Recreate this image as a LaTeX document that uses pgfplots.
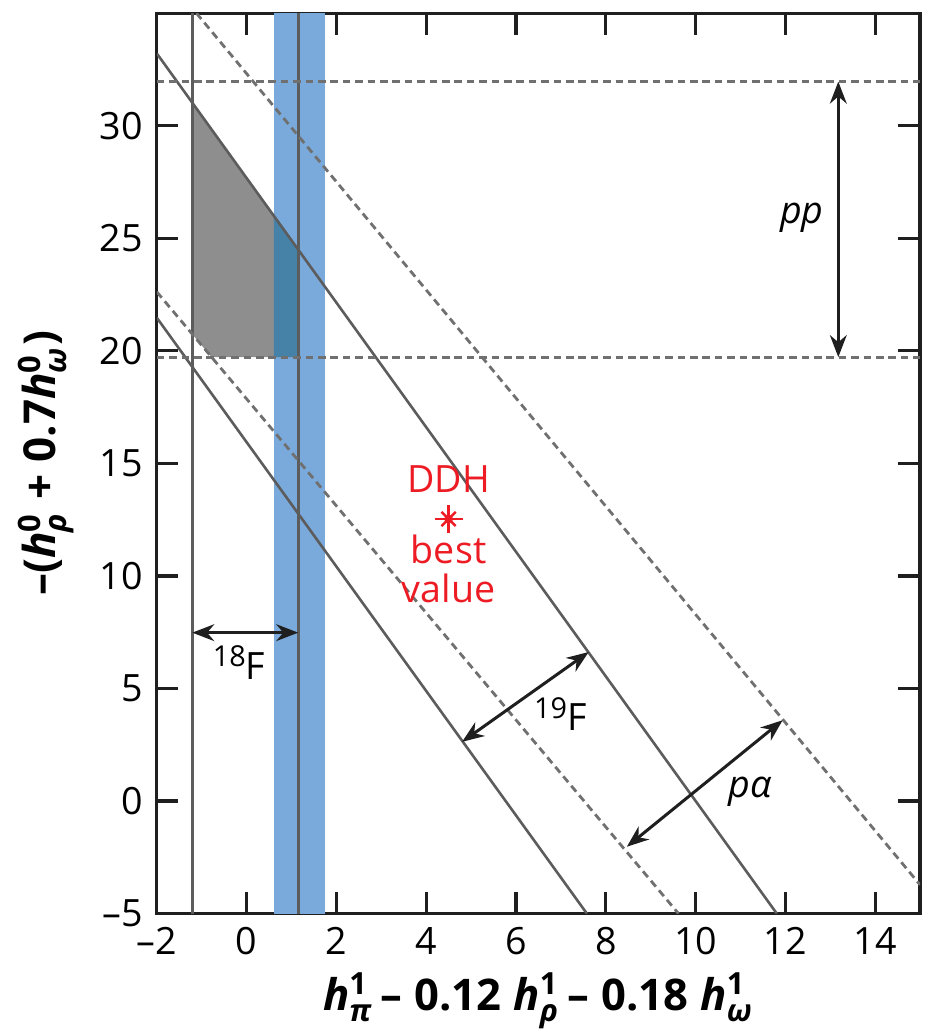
\documentclass[border=0pt]{standalone}
\usepackage{fontspec}
\setmainfont{Open Sans}
\usepackage{amsmath}
\usepackage{pgfplots}
\pgfplotsset{compat=1.18}
\usetikzlibrary{arrows.meta}

\definecolor{bandblue}{RGB}{122,170,220}
\definecolor{regiongray}{RGB}{142,142,142}
\definecolor{overlapc}{RGB}{70,130,168}
\definecolor{linegray}{RGB}{92,92,92}
\definecolor{dashgray}{RGB}{112,112,112}
\definecolor{ddhred}{RGB}{237,28,36}

\newcommand{\hh}[2]{\textit{h}\ensuremath{^{\text{\upshape #1}}_{\text{\itshape #2}}}}
\newcommand{\iso}[1]{{\fontsize{7.2pt}{8pt}\selectfont\raisebox{0.42em}{#1}}}

\begin{document}
\begin{tikzpicture}[font=\fontsize{9.4pt}{11pt}\selectfont]
\begin{axis}[
  scale only axis, width=190.8pt, height=225.1pt,
  xmin=-2, xmax=15, ymin=-5, ymax=35,
  xtick={-2,0,2,4,6,8,10,12,14},
  xticklabels={–2,0,2,4,6,8,10,12,14},
  ytick={-5,0,5,10,15,20,25,30},
  yticklabels={–5,0,5,10,15,20,25,30},
  tick align=inside, major tick length=5.4pt,
  axis line style={line width=0.8pt, black!88},
  every tick/.style={line width=0.8pt, black!88},
  xlabel={\bfseries\hh{1}{π}\,–\;0.12\;\hh{1}{ρ}\,–\;0.18\;\hh{1}{ω}},
  ylabel={\bfseries –(\hh{0}{ρ}\;+\;0.7\hh{0}{ω})},
  xlabel style={font=\fontsize{10.9pt}{12pt}\selectfont, yshift=2.5pt},
  ylabel style={font=\fontsize{11pt}{12pt}\selectfont, yshift=-0.5pt},
  clip=true,
  clip bounding box=upper bound,
]
% blue band (18F)
\addplot[fill=bandblue, draw=none] coordinates {(0.61,-5) (1.74,-5) (1.74,35) (0.61,35)} -- cycle;
% allowed region
\addplot[fill=regiongray, draw=none] coordinates {(-1.21,31.02) (-1.21,20.74) (-0.78,19.72) (1.15,19.72) (1.15,24.49)} -- cycle;
% overlap of region with band
\addplot[fill=overlapc, draw=none] coordinates {(0.61,19.72) (1.15,19.72) (1.15,24.49) (0.61,25.99)} -- cycle;

% vertical lines (18F)
\addplot[linegray, line width=0.65pt] coordinates {(-1.21,-5) (-1.21,35)};
\addplot[linegray, line width=0.65pt] coordinates {(1.15,-5) (1.15,35)};
% 19F band (solid)
\addplot[linegray, line width=0.65pt] coordinates {(-2,33.21) (11.81,-5)};
\addplot[linegray, line width=0.65pt] coordinates {(-2,21.47) (7.58,-5)};
% p-alpha band (dashed)
\addplot[dashgray, line width=0.7pt, dash pattern=on 1.9pt off 1.2pt] coordinates {(-2,22.62) (9.62,-5)};
\addplot[dashgray, line width=0.7pt, dash pattern=on 1.9pt off 1.2pt] coordinates {(-1.117,35) (15,-3.72)};
% pp band (dashed)
\addplot[dashgray, line width=0.7pt, dash pattern=on 1.9pt off 1.2pt] coordinates {(-2,31.96) (15,31.96)};
\addplot[dashgray, line width=0.7pt, dash pattern=on 1.9pt off 1.2pt] coordinates {(-2,19.72) (15,19.72)};

% arrows
\addplot[black!88, line width=0.75pt, {Stealth[length=5.5pt,width=4.2pt]}-{Stealth[length=5.5pt,width=4.2pt]}] coordinates {(13.18,31.96) (13.18,19.72)};
\addplot[black!88, line width=0.75pt, {Stealth[length=5.5pt,width=4.2pt]}-{Stealth[length=5.5pt,width=4.2pt]}] coordinates {(-1.21,7.48) (1.15,7.48)};
\addplot[black!88, line width=0.75pt, {Stealth[length=5.5pt,width=4.2pt]}-{Stealth[length=5.5pt,width=4.2pt]}] coordinates {(4.80,2.63) (7.62,6.62)};
\addplot[black!88, line width=0.75pt, {Stealth[length=5.5pt,width=4.2pt]}-{Stealth[length=5.5pt,width=4.2pt]}] coordinates {(8.47,-2.03) (11.94,3.59)};

% DDH best value
\addplot[only marks, mark=+, mark size=3.5pt, ddhred, line width=0.65pt] coordinates {(4.5,12.53)};
\addplot[only marks, mark=x, mark size=2.5pt, ddhred, line width=0.65pt] coordinates {(4.5,12.53)};
\addplot[only marks, mark=*, mark size=0.9pt, ddhred] coordinates {(4.5,12.53)};

\node[ddhred] at (axis cs:4.5,14.3) {DDH};
\node[ddhred] at (axis cs:4.5,11.2) {best};
\node[ddhred] at (axis cs:4.5,9.45) {value};

\node at (axis cs:12.37,25.9) {\textit{pp}};
\node at (axis cs:-0.17,6.15) {\iso{18}F};
\node at (axis cs:6.99,3.85) {\iso{19}F};
\node at (axis cs:11.22,0.41) {\textit{pα}};
\end{axis}
\pgfresetboundingbox
\path ([xshift=-39.2pt,yshift=-29.85pt]current axis.south west) rectangle ([xshift=4pt,yshift=3.3pt]current axis.north east);
\end{tikzpicture}
\end{document}
